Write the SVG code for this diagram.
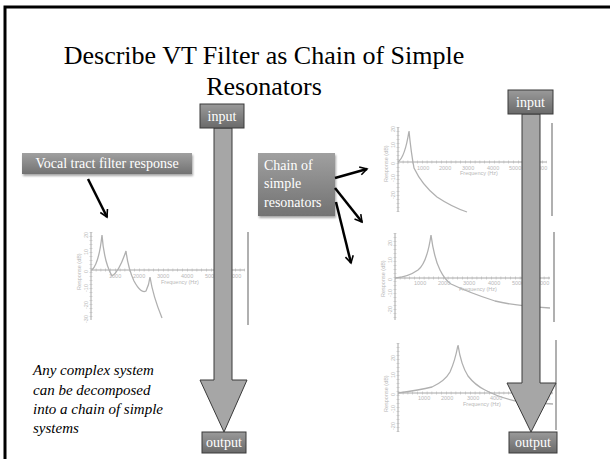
<svg xmlns="http://www.w3.org/2000/svg" width="610" height="459" viewBox="0 0 610 459">
<defs>
<linearGradient id="boxg" x1="0" y1="0" x2="0" y2="1">
<stop offset="0" stop-color="#9a9a9a"/><stop offset="1" stop-color="#6a6a6a"/>
</linearGradient>
<linearGradient id="lblg" x1="0" y1="0" x2="0" y2="1">
<stop offset="0" stop-color="#a0a0a0"/><stop offset="1" stop-color="#727272"/>
</linearGradient>
<marker id="ah" viewBox="0 0 10 10" refX="8" refY="5" markerWidth="4" markerHeight="4" orient="auto" markerUnits="strokeWidth">
<path d="M1,1 L8,5 L1,9" fill="none" stroke="#000" stroke-width="1.6"/>
</marker>
<filter id="sh" x="-10%" y="-10%" width="130%" height="140%">
<feDropShadow dx="1" dy="2" stdDeviation="1.2" flood-color="#000" flood-opacity="0.35"/>
</filter>
</defs>
<style>
.title{font-family:"Liberation Serif","Times New Roman",serif;font-size:26px;fill:#000}
.io{fill:url(#boxg);stroke:#3a3a3a;stroke-width:1}
.iot{font-family:"Liberation Serif","Times New Roman",serif;font-size:14px;fill:#fff;text-anchor:middle}
.lbl{fill:url(#lblg);filter:url(#sh)}
.lblt{font-family:"Liberation Serif","Times New Roman",serif;font-size:14px;fill:#fff}
.shaft{fill:#a6a6a6;stroke:#3a3a3a;stroke-width:1}
.conn{stroke:#000;stroke-width:2.5;fill:none;marker-end:url(#ah)}
.ax{stroke:#a8a8a8;stroke-width:1;fill:none}
.tk{stroke:#b4b4b4;stroke-width:3;stroke-dasharray:0.6 4.2;fill:none}
.tky{stroke:#b4b4b4;stroke-width:3;stroke-dasharray:0.6 3.4;fill:none}
.cur{stroke:#b0b0b0;stroke-width:1.3;fill:none}
.rl{stroke:#a8a8a8;stroke-width:1.8}
.gt{font-family:"Liberation Sans",Arial,sans-serif;font-size:5.5px;fill:#b8b8b8}
.note{font-family:"Liberation Serif","Times New Roman",serif;font-size:15px;font-style:italic;fill:#000}
</style>
<rect width="610" height="459" fill="#fff"/>
<path d="M5,459 V7 H610" fill="none" stroke="#000" stroke-width="3"/>
<g id="title">
<text class="title" x="264" y="64" text-anchor="middle">Describe VT Filter as Chain of Simple</text>
<text class="title" x="264" y="95" text-anchor="middle">Resonators</text>
</g>
<g id="graph-left">
<line class="ax" x1="91" y1="232" x2="91" y2="320"/>
<line class="tky" x1="91" y1="232" x2="91" y2="320"/>
<line class="ax" x1="91" y1="270" x2="245" y2="270"/>
<line class="tk" x1="91" y1="270" x2="245" y2="270"/>
<line class="rl" x1="248" y1="232" x2="248" y2="325"/>
<path class="cur" d="M92,270 Q99,263 102,235 Q104,262 112,276 Q119,272 126,251 Q128,268 134,281 Q141,294 146,291 Q149,285 150,277 Q153,296 162,318"/>
<g class="gt">
<text x="109" y="278">1000</text><text x="133" y="278">2000</text><text x="157" y="278">3000</text><text x="181" y="278">4000</text><text x="205" y="278">5000</text><text x="229" y="278">6000</text>
<text x="161" y="284">Frequency (Hz)</text>
<text transform="translate(88,238) rotate(-90)">20</text><text transform="translate(88,255) rotate(-90)">10</text><text transform="translate(88,273) rotate(-90)">0</text><text transform="translate(88,292) rotate(-90)">-10</text><text transform="translate(88,309) rotate(-90)">-20</text><text transform="translate(88,323) rotate(-90)">-30</text>
<text transform="translate(81,290) rotate(-90)">Response (dB)</text>
</g>
</g>
<g id="graph-r1">
<line class="ax" x1="398" y1="127" x2="398" y2="212"/>
<line class="tky" x1="398" y1="127" x2="398" y2="212"/>
<line class="ax" x1="398" y1="162" x2="547" y2="162"/>
<line class="tk" x1="398" y1="162" x2="547" y2="162"/>
<line class="rl" x1="552" y1="123" x2="552" y2="216"/>
<path class="cur" d="M398,162 Q405,157 409,131 Q411,152 414,168 Q422,185 437,197 Q452,207 467,212"/>
<g class="gt">
<text x="417" y="170">1000</text><text x="439" y="170">2000</text><text x="462" y="170">3000</text><text x="487" y="170">4000</text><text x="509" y="170">5000</text><text x="535" y="170">6000</text>
<text x="460" y="175">Frequency (Hz)</text>
<text transform="translate(395,132) rotate(-90)">20</text><text transform="translate(395,148) rotate(-90)">10</text><text transform="translate(395,165) rotate(-90)">0</text><text transform="translate(395,182) rotate(-90)">-10</text><text transform="translate(395,199) rotate(-90)">-20</text>
<text transform="translate(388,182) rotate(-90)">Response (dB)</text>
</g>
</g>
<g id="graph-r2">
<line class="ax" x1="395" y1="233" x2="395" y2="320"/>
<line class="tky" x1="395" y1="233" x2="395" y2="320"/>
<line class="ax" x1="395" y1="278" x2="550" y2="278"/>
<line class="tk" x1="395" y1="278" x2="550" y2="278"/>
<line class="rl" x1="554" y1="232" x2="554" y2="322"/>
<path class="cur" d="M395,278 Q408,277 418,270 Q427,263 431,235 Q434,258 440,270 Q445,280 451,284 Q470,293 495,301 Q515,306 550,308"/>
<g class="gt">
<text x="414" y="285">1000</text><text x="438" y="285">2000</text><text x="463" y="285">3000</text><text x="488" y="285">4000</text><text x="512" y="285">5000</text><text x="537" y="285">6000</text>
<text x="459" y="291">Frequency (Hz)</text>
<text transform="translate(392,246) rotate(-90)">20</text><text transform="translate(392,263) rotate(-90)">10</text><text transform="translate(392,281) rotate(-90)">0</text><text transform="translate(392,297) rotate(-90)">-10</text><text transform="translate(392,314) rotate(-90)">-20</text>
<text transform="translate(385,297) rotate(-90)">Response (dB)</text>
</g>
</g>
<g id="graph-r3">
<line class="ax" x1="398" y1="343" x2="398" y2="432"/>
<line class="tky" x1="398" y1="343" x2="398" y2="432"/>
<line class="ax" x1="398" y1="393" x2="553" y2="393"/>
<line class="tk" x1="398" y1="393" x2="553" y2="393"/>
<line class="rl" x1="556" y1="340" x2="556" y2="430"/>
<path class="cur" d="M398,393 Q420,390 432,387 Q445,381 450,372 Q455,361 458,345 Q461,365 468,376 Q475,385 485,390 Q500,398 520,402 L553,404"/>
<g class="gt">
<text x="418" y="400">1000</text><text x="441" y="400">2000</text><text x="467" y="400">3000</text><text x="490" y="400">4000</text><text x="515" y="400">5000</text><text x="538" y="400">6000</text>
<text x="463" y="406">Frequency (Hz)</text>
<text transform="translate(395,361) rotate(-90)">20</text><text transform="translate(395,378) rotate(-90)">10</text><text transform="translate(395,396) rotate(-90)">0</text><text transform="translate(395,413) rotate(-90)">-10</text><text transform="translate(395,430) rotate(-90)">-20</text>
<text transform="translate(388,412) rotate(-90)">Response (dB)</text>
</g>
</g>
<g id="arrow-left">
<path class="shaft" d="M214,128 H232 V380 H247 L224,432 L200,380 H214 Z"/>
</g>
<g id="arrow-right">
<path class="shaft" d="M522,114 H540 V383 H556 L531,432 L507,383 H522 Z"/>
</g>
<g id="input-left">
<rect class="io" x="200" y="104" width="44" height="24"/>
<text class="iot" x="222" y="121">input</text>
</g>
<g id="output-left">
<rect class="io" x="202" y="432" width="44" height="21"/>
<text class="iot" x="224" y="447">output</text>
</g>
<g id="input-right">
<rect class="io" x="508" y="90" width="45" height="24"/>
<text class="iot" x="530.5" y="107">input</text>
</g>
<g id="output-right">
<rect class="io" x="509" y="432" width="48" height="21"/>
<text class="iot" x="533" y="447">output</text>
</g>
<g id="label-vocal">
<rect class="lbl" x="22" y="153" width="170" height="21"/>
<text class="lblt" x="107" y="168" text-anchor="middle">Vocal tract filter response</text>
</g>
<g id="label-chain">
<rect class="lbl" x="258" y="153" width="77" height="63"/>
<text class="lblt" x="264" y="170">Chain of</text>
<text class="lblt" x="264" y="188">simple</text>
<text class="lblt" x="264" y="207">resonators</text>
</g>
<g id="note">
<text class="note" x="33" y="375">Any complex system</text>
<text class="note" x="33" y="395">can be decomposed</text>
<text class="note" x="33" y="414">into a chain of simple</text>
<text class="note" x="33" y="433">systems</text>
</g>
<g id="connectors">
<line class="conn" x1="88" y1="179" x2="107" y2="217"/>
<line class="conn" x1="335" y1="178" x2="367" y2="169"/>
<line class="conn" x1="335" y1="188" x2="362" y2="222"/>
<line class="conn" x1="336" y1="202" x2="351" y2="263"/>
</g>
</svg>
